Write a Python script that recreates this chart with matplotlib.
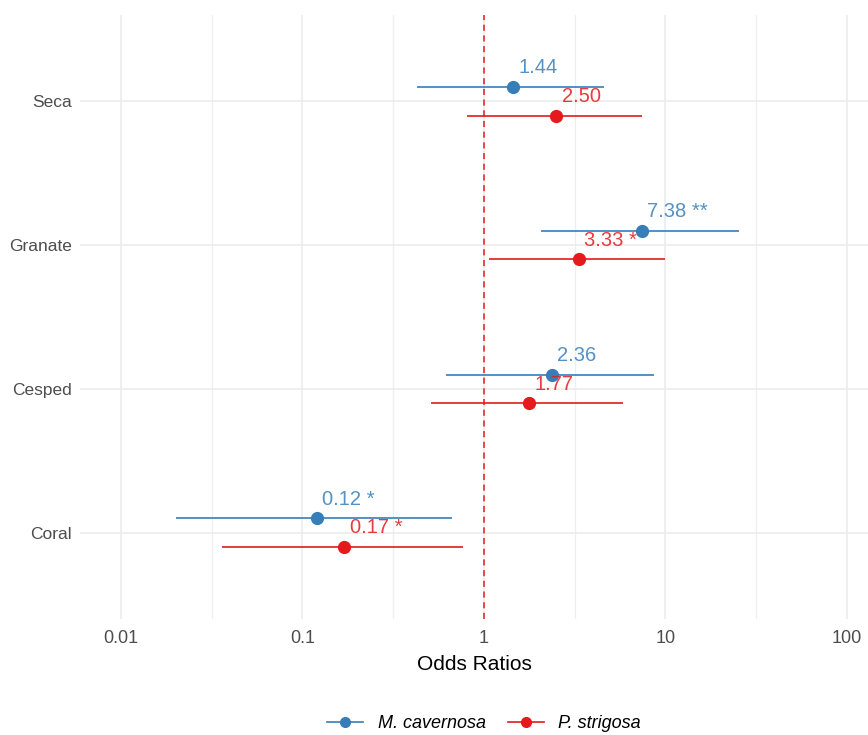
import numpy as np
import matplotlib
matplotlib.use("Agg")
import matplotlib.pyplot as plt
from matplotlib.lines import Line2D

plt.rcParams['font.family'] = ['Liberation Sans', 'DejaVu Sans']

# data
terms = ["Seca", "Granate", "Cesped", "Coral"]
species = ["M. cavernosa", "P. strigosa"]
colors = ["#377EB8", "#E41A1C"]

or_mcav = [1.44, 7.38, 2.36, 0.12]
lo_mcav = [0.43, 2.06, 0.62, 0.020]
hi_mcav = [4.6, 25.4, 8.6, 0.67]
lab_mcav = ["1.44", "7.38 **", "2.36", "0.12 *"]

or_pstr = [2.50, 3.33, 1.77, 0.17]
lo_pstr = [0.81, 1.07, 0.51, 0.036]
hi_pstr = [7.4, 9.9, 5.8, 0.77]
lab_pstr = ["2.50", "3.33 *", "1.77", "0.17 *"]

fig = plt.figure(figsize=(8.68, 7.35), dpi=100)
ax = fig.add_axes([80 / 868, 1 - 619 / 735, 788 / 868, 604 / 735])

ypos = np.arange(len(terms))[::-1]  # Seca at top
offsets = [0.1, -0.1]
series = [(or_mcav, lo_mcav, hi_mcav, lab_mcav),
          (or_pstr, lo_pstr, hi_pstr, lab_pstr)]

for k, (est, lo, hi, labs) in enumerate(series):
    y = ypos + offsets[k]
    ax.hlines(y, lo, hi, color=colors[k], lw=1.2, zorder=3)
    ax.plot(est, y, 'o', color=colors[k], ms=8.5, zorder=4)
    for xi, yi, t in zip(est, y, labs):
        ax.annotate(t, (xi, yi), xytext=(4, 7), textcoords='offset points',
                    ha='left', va='bottom', color=colors[k], fontsize=14.5,
                    alpha=0.85, zorder=5)

ax.axvline(1, color="#E41A1C", ls=(0, (4, 3)), lw=1.1, zorder=2)

ax.set_xscale('log')
ax.set_xlim(10 ** -2.226, 10 ** 2.116)
ax.set_ylim(-0.6, 3.6)
ax.set_xticks([0.01, 0.1, 1, 10, 100])
ax.set_xticklabels(["0.01", "0.1", "1", "10", "100"])
ax.set_xticks([10 ** -1.5, 10 ** -0.5, 10 ** 0.5, 10 ** 1.5], minor=True)
ax.set_yticks(ypos)
ax.set_yticklabels(terms)

ax.grid(which='major', color="#EBEBEB", lw=1.1, zorder=0)
ax.grid(which='minor', axis='x', color="#EFEFEF", lw=0.9, zorder=0)
ax.set_axisbelow(True)
for s in ax.spines.values():
    s.set_visible(False)
ax.tick_params(which='both', length=0, labelsize=12.5, labelcolor="#4D4D4D")
ax.tick_params(axis='x', pad=8, labelsize=13)
ax.tick_params(axis='y', pad=6)
ax.set_xlabel("Odds Ratios", fontsize=15, labelpad=6)

handles = [Line2D([0], [0], color=c, marker='o', ms=7, lw=1.2) for c in colors]
leg = fig.legend(handles, species, loc='center', bbox_to_anchor=(484 / 868, 1 - 724 / 735),
                 ncol=2, frameon=False, handlelength=2.0, columnspacing=1.2,
                 prop={'style': 'italic', 'size': 13})

fig.savefig("out.png", dpi=100)
